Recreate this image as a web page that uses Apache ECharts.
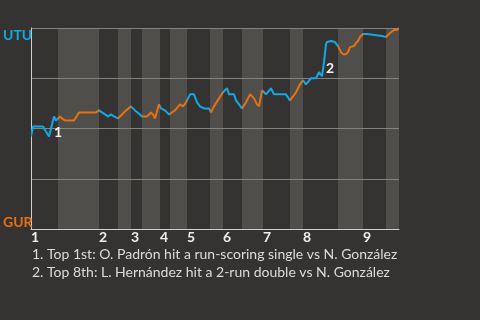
<!DOCTYPE html>
<html>
<head>
<meta charset="utf-8">
<script src="https://cdn.jsdelivr.net/npm/echarts@6/dist/echarts.min.js"></script>
<style>
  html, body { margin: 0; padding: 0; background: #353331; }
  #chart { width: 480px; height: 320px; }
</style>
</head>
<body>
<div id="chart"></div>
<script>
// ---- data (x = play progress, y = UTU win probability %) ----
const playIdx = [
  0, 0.5, 1, 3, 4.5, 5, 5.75, 6.25, 6.75,
  7.25, 7.75, 8.5, 10.75, 12, 12.75, 16.25, 17,
  17.75, 18.5, 19.25, 20, 20.75, 21.75,
  22.75, 23.75, 25,
  26, 27.25, 27.75,
  29, 30, 30.5, 31, 32,
  32.5, 33.5, 34.5, 34.75,
  36, 37.25, 38, 38.75, 39,
  39.75, 40.75, 41.5, 42.25, 43.25, 44.5, 45,
  45.75, 47, 48,
  49, 49.5, 50.75, 51.25, 52, 52.75,
  53.75, 54.75, 55.75, 56.5, 57, 57.75, 58,
  58.75, 60, 60.75, 63.75, 64.75,
  66.25, 67.25, 68,
  68.75, 70, 71.25, 72, 72.75, 73.25, 73.75, 74, 75, 76, 76.75,
  77.5, 78, 78.75, 79.25, 79.75, 80.75, 81.25, 81.75, 82.25, 83,
  84, 84.5, 87.75, 88.25, 88.75,
  89.75, 90.75, 91.5, 92
];
const utuWinPct = [
  46, 51, 51, 51, 46, 46, 56, 54, 55,
  56, 55, 54, 54, 58, 58, 58, 59,
  58, 57, 56, 57, 56, 55,
  57, 59, 61,
  59, 57, 56,
  56, 58, 57, 55, 62,
  60, 59, 57, 57,
  59, 62, 61, 63, 64,
  67, 67, 63, 61, 60, 60, 58,
  61, 65, 68,
  70, 67, 67, 64, 62, 60,
  63, 67, 65, 62, 61, 69, 69,
  67, 70, 67, 67, 64,
  68, 72, 74,
  72, 75, 75, 78, 76, 83, 92, 93, 93.5, 93, 91,
  88, 87, 87, 88, 90.5, 91, 92.5, 93.5, 95.5, 97,
  97, 96.5, 96, 96.5, 95.5,
  97.5, 99, 99, 100
];
// start of each half inning (top 1, bottom 1, top 2, ...), last value = game end
const halfInningStarts = [0, 6.75, 17, 21.75, 25, 27.75, 32.25, 34.75, 39, 44.75, 48, 52.75, 58, 64.75, 68, 76.75, 83, 88.75, 92];
const inningLabels = ['1', '2', '3', '4', '5', '6', '7', '8', '9'];
const teamTop = 'UTU';
const teamBottom = 'GUR';
const annotations = [
  { label: '1', x: 6.75, y: 48 },
  { label: '2', x: 74.75, y: 80 }
];
const notes = [
  '1. Top 1st: O. Padrón hit a run-scoring single vs N. González',
  '2. Top 8th: L. Hernández hit a 2-run double vs N. González'
];

// ---- styling ----
const BLUE = '#12a8e6';
const ORANGE = '#e8700f';
const FONT = 'Lato';

const lineData = playIdx.map((x, i) => [x, utuWinPct[i]]);
const inningStarts = halfInningStarts.filter((_, i) => i % 2 === 0 && i < halfInningStarts.length - 1);
const bands = [];
for (let i = 1; i < halfInningStarts.length - 1; i += 2) {
  bands.push([{ xAxis: halfInningStarts[i] }, { xAxis: halfInningStarts[i + 1] }]);
}
const pieces = [];
for (let i = 0; i < halfInningStarts.length - 1; i++) {
  const p = { gte: halfInningStarts[i], color: i % 2 === 0 ? BLUE : ORANGE };
  if (i < halfInningStarts.length - 2) p.lt = halfInningStarts[i + 1];
  else p.lte = halfInningStarts[i + 1];
  pieces.push(p);
}
const xMax = halfInningStarts[halfInningStarts.length - 1];

const chart = echarts.init(document.getElementById('chart'), null, { renderer: 'canvas' });
chart.setOption({
  backgroundColor: '#353331',
  animation: false,
  textStyle: { fontFamily: FONT },
  title: {
    text: notes.join('\n'),
    left: 32, top: 245, padding: 0,
    textStyle: { fontFamily: FONT, fontSize: 14, fontWeight: 'normal', color: '#dcdcdc', lineHeight: 18 }
  },
  grid: { left: 31, right: 81, top: 28, bottom: 91, containLabel: false },
  xAxis: {
    type: 'value', min: 0, max: xMax, z: 2,
    splitLine: { show: false },
    axisTick: { show: false },
    axisLine: { show: true, lineStyle: { color: '#cfcfcf', width: 1 } },
    axisLabel: {
      customValues: inningStarts,
      formatter: v => inningLabels[inningStarts.indexOf(v)] || '',
      align: 'left', margin: 1,
      color: '#eeeeee', fontSize: 14, fontWeight: 'bold', fontFamily: FONT
    }
  },
  yAxis: {
    type: 'value', min: 0, max: 100, interval: 25, z: 2,
    splitLine: { show: true, lineStyle: { color: '#858380', width: 1 } },
    axisTick: { show: false },
    axisLine: { show: true, lineStyle: { color: '#cfcfcf', width: 1 } },
    axisLabel: {
      customValues: [0, 100],
      formatter: v => v === 100 ? '{u|' + teamTop + '}' : '{g|' + teamBottom + '}',
      align: 'left', margin: 28,
      verticalAlignMaxLabel: 'top', verticalAlignMinLabel: 'bottom',
      rich: {
        u: { color: BLUE, fontSize: 14, fontWeight: 'bold', fontFamily: FONT },
        g: { color: ORANGE, fontSize: 14, fontWeight: 'bold', fontFamily: FONT }
      }
    }
  },
  visualMap: {
    show: false, type: 'piecewise', dimension: 0, seriesIndex: 1,
    pieces: pieces
  },
  series: [
    {
      type: 'line', data: [], z: 1, silent: true,
      markArea: {
        silent: true,
        itemStyle: { color: '#504e4b' },
        data: bands
      }
    },
    {
      type: 'line', data: lineData, z: 5,
      showSymbol: false, symbol: 'none',
      lineStyle: { width: 2 },
      markPoint: {
        symbol: 'circle', symbolSize: 0,
        label: { show: true, position: 'inside', color: '#f2f2f2', fontSize: 14, fontWeight: 'bold', fontFamily: FONT, formatter: p => p.name },
        data: annotations.map(a => ({ name: a.label, coord: [a.x, a.y] }))
      }
    }
  ]
});
</script>
</body>
</html>
